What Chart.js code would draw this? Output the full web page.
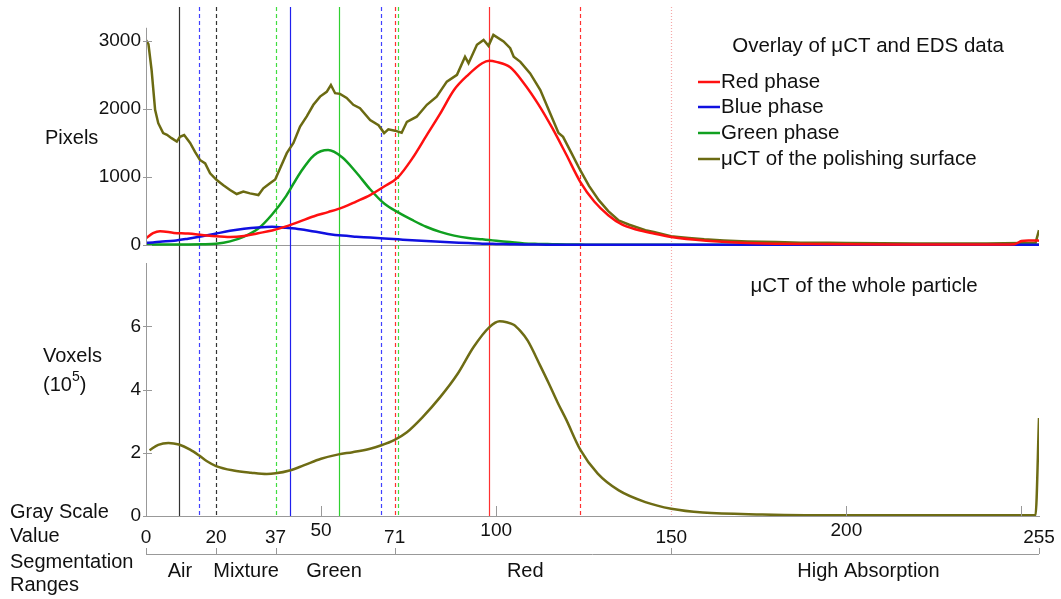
<!DOCTYPE html>
<html>
<head>
<meta charset="utf-8">
<script src="https://cdn.jsdelivr.net/npm/chart.js@4.4.0/dist/chart.umd.min.js"></script>
<style>
html, body { margin: 0; padding: 0; background: #fff; }
#wrap { width: 1061px; height: 599px; }
</style>
</head>
<body>
<div id="wrap"><canvas id="histChart"></canvas></div>
<script>
// gray scale values where the EDS phase curves were read
const phaseX = [0, 2, 4, 8, 12, 16, 20, 24, 28, 32, 36, 40, 44, 48, 52, 56, 60, 64, 68, 72, 76, 80, 84, 88, 92, 96, 98, 100, 104, 108,
    112, 116, 120, 124, 128, 132, 136, 140, 145, 150, 160, 170, 180, 200, 220, 240, 248, 250, 252, 254, 255];
const redPhase = [100, 175, 205, 180, 170, 150, 130, 120, 135, 175, 215, 275, 350, 425, 485, 550, 640, 735, 860, 1000,
    1270, 1600, 1930, 2280, 2500, 2670, 2705, 2690, 2610, 2370, 2070, 1720, 1330, 930, 640, 440, 300, 230, 170, 120,
    65, 35, 22, 12, 10, 10, 15, 60, 70, 70, 65];
const bluePhase = [35, 40, 50, 65, 95, 130, 170, 210, 240, 260, 270, 255, 235, 200, 165, 140, 125, 112, 98, 85,
    72, 60, 50, 40, 30, 22, 20, 18, 14, 10, 8, 7, 6, 5, 5, 5, 5, 5, 5, 5,
    5, 5, 5, 5, 5, 5, 5, 5, 5, 5, 5];
const greenPhase = [10, 10, 10, 10, 10, 12, 20, 55, 125, 240, 450, 720, 1060, 1320, 1395, 1290, 1070, 820, 610, 480,
    370, 270, 195, 140, 105, 85, 75, 65, 45, 25, 18, 14, 10, 8, 6, 5, 5, 5, 5, 5,
    5, 5, 5, 5, 5, 5, 5, 5, 5, 5, 5];

// uCT histogram of the polishing surface (pixels)
const surfaceX = [0, 0.7, 1.6, 2.6, 3.5, 4.9, 6, 7.3, 8.8, 9.7, 10.9, 12.6, 14, 15.4, 16.9, 18.3, 20.2, 22.1, 24, 25.9,
    27.8, 29.7, 32.1, 33.5, 35.4, 36.9, 38.3, 40.2, 42.1, 44, 45.9, 47.8, 49.7, 51.6, 52.8, 54, 55.4, 57.3, 59.2, 61.1,
    64, 66.4, 68, 69.2, 71.1, 73, 74.5, 77.3, 80.2, 83, 85.9, 88.8, 91.1, 92.1, 94.5, 96.4, 97.8, 99.2, 102.1, 104,
    105, 106.9, 109.7, 112.6, 115.4, 117.8, 119.1, 121.5, 124, 126.5, 129.3, 132, 134.9, 138, 142.6, 145, 149.9, 152, 155, 159.4,
    165, 171.7, 180, 187, 195, 200, 210, 220, 230, 240, 250, 254, 255];
const surfacePixels = [3010, 2950, 2570, 1985, 1790, 1645, 1620, 1570, 1520, 1590, 1615, 1500, 1370, 1250, 1200, 1055, 955, 880, 810, 750,
    785, 760, 735, 835, 910, 965, 1130, 1350, 1500, 1740, 1890, 2060, 2180, 2250, 2350, 2230, 2220, 2160, 2060, 2010,
    1835, 1760, 1645, 1700, 1680, 1650, 1810, 1885, 2060, 2180, 2400, 2500, 2765, 2670, 2940, 3010, 2925, 3085, 2990, 2890,
    2765, 2690, 2520, 2275, 1935, 1645, 1590, 1350, 1100, 870, 660, 500, 365, 300, 220, 195, 130, 120, 105, 85,
    70, 55, 45, 35, 35, 30, 28, 25, 25, 25, 30, 30, 220];

// uCT histogram of the whole particle (voxels, 10^5)
const particleX = [1, 3.5, 6.4, 9.4, 12.6, 15.1, 17.3, 20, 25, 30, 34.5, 37, 41, 45, 50, 55, 59, 64, 67, 71,
    74.5, 79, 84, 89, 93.5, 98, 101, 103, 105, 107, 109, 112.6, 115, 117.5, 120, 124, 129, 135, 142.6, 150, 159, 176, 200, 254, 255];
const particleVoxels = [2.08, 2.25, 2.31, 2.26, 2.10, 1.92, 1.74, 1.58, 1.44, 1.37, 1.33, 1.35, 1.44, 1.60, 1.81, 1.95, 2.02, 2.13, 2.23, 2.41,
    2.65, 3.13, 3.76, 4.50, 5.34, 5.97, 6.16, 6.13, 6.05, 5.84, 5.55, 4.75, 4.20, 3.60, 3.05, 2.10, 1.34, 0.81, 0.44, 0.23, 0.11, 0.05, 0.02, 0.02, 3.1];

// threshold lines
const boundaryX = [9.5, 15, 20, 37, 41, 55, 67, 71, 72, 98, 124, 150];
const boundaryColor = ['#333333', '#4040ff', '#333333', '#40dd40', '#2020ee', '#30d030', '#4040ff', '#ff3030', '#40dd40', '#ff3030', '#ff3030', '#f5a8a8'];
const boundaryDash = [[], [4, 3], [4, 3], [4, 3], [], [], [4, 3], [4, 3], [4, 3], [], [4, 3], [1, 2]];

const pixelTicks = [0, 1000, 2000, 3000];
const voxelTicks = [0, 2, 4, 6];
const grayTicksUpper = [50, 100, 200];
const grayTicksLower = [0, 20, 37, 71, 150, 255];
const grayMinorTicks = [50, 100, 200, 250];
const segmentNames = ['Air', 'Mixture', 'Green', 'Red', 'High Absorption'];
const segmentCenters = [9.7, 28.6, 53.7, 108.3, 206.3];

const FONT = '"Liberation Sans", Arial, sans-serif';
const pts = (xs, ys) => xs.map((x, i) => ({ x: x, y: ys[i] }));

// linije pragova, ose i tekstovi oko grafika
const decorPlugin = {
    id: 'decor',
    beforeDatasetsDraw(chart) {
        const { ctx, chartArea, scales } = chart;
        ctx.save();
        ctx.lineWidth = 1.2;
        boundaryX.forEach((v, i) => {
            const px = Math.round(scales.x.getPixelForValue(v)) + 0.5;
            ctx.strokeStyle = boundaryColor[i];
            ctx.setLineDash(boundaryDash[i]);
            ctx.beginPath();
            ctx.moveTo(px, chartArea.top);
            ctx.lineTo(px, chartArea.bottom);
            ctx.stroke();
        });
        ctx.setLineDash([]);
        ctx.restore();
    },
    afterDraw(chart) {
        const { ctx, chartArea, scales } = chart;
        const x = scales.x, y = scales.y, y2 = scales.y2;
        ctx.save();
        ctx.strokeStyle = '#999';
        ctx.lineWidth = 1;
        // top panel y axis line
        ctx.beginPath();
        ctx.moveTo(chartArea.left + 0.5, y.getPixelForValue(3190));
        ctx.lineTo(chartArea.left + 0.5, y.getPixelForValue(0));
        ctx.stroke();
        // y tick marks
        pixelTicks.forEach(v => {
            const py = Math.round(y.getPixelForValue(v)) + 0.5;
            ctx.beginPath(); ctx.moveTo(chartArea.left - 3, py); ctx.lineTo(chartArea.left + 6, py); ctx.stroke();
        });
        voxelTicks.forEach(v => {
            const py = Math.round(y2.getPixelForValue(v)) + 0.5;
            ctx.beginPath(); ctx.moveTo(chartArea.left - 3, py); ctx.lineTo(chartArea.left + 6, py); ctx.stroke();
        });
        // small ticks inward on the gray scale axis
        grayMinorTicks.forEach(v => {
            const px = Math.round(x.getPixelForValue(v)) + 0.5;
            ctx.beginPath(); ctx.moveTo(px, chartArea.bottom); ctx.lineTo(px, chartArea.bottom - 10); ctx.stroke();
        });
        // segmentation ranges line
        const segY = chartArea.bottom + 38;
        ctx.beginPath();
        ctx.moveTo(x.getPixelForValue(0), segY + 0.5);
        ctx.lineTo(x.getPixelForValue(255), segY + 0.5);
        ctx.stroke();
        grayTicksLower.forEach(v => {
            const px = Math.round(x.getPixelForValue(v)) + 0.5;
            ctx.beginPath(); ctx.moveTo(px, segY); ctx.lineTo(px, segY - 6); ctx.stroke();
        });

        ctx.fillStyle = '#111';
        ctx.textBaseline = 'middle';
        ctx.font = '19px ' + FONT;
        ctx.textAlign = 'center';
        grayTicksLower.forEach(v => {
            ctx.fillText(String(v), x.getPixelForValue(v), chartArea.bottom + 22);
        });
        ctx.font = '20px ' + FONT;
        segmentNames.forEach((n, i) => {
            ctx.fillText(n, x.getPixelForValue(segmentCenters[i]), chartArea.bottom + 55);
        });

        // axis names on the left
        ctx.textAlign = 'left';
        ctx.fillText('Pixels', 45, 138);
        ctx.fillText('Voxels', 43, 356);
        ctx.fillText('(10', 43, 385);
        const w10 = ctx.measureText('(10').width;
        ctx.font = '14px ' + FONT;
        ctx.fillText('5', 43 + w10, 377);
        const w5 = ctx.measureText('5').width;
        ctx.font = '20px ' + FONT;
        ctx.fillText(')', 43 + w10 + w5, 385);
        ctx.fillText('Gray Scale', 10, 512);
        ctx.fillText('Value', 10, 536);
        ctx.fillText('Segmentation', 10, 562);
        ctx.fillText('Ranges', 10, 585);

        // titles
        ctx.textAlign = 'center';
        ctx.font = '20.5px ' + FONT;
        ctx.fillText('Overlay of \u03bcCT and EDS data', 868, 46);
        ctx.fillText('\u03bcCT of the whole particle', 864, 286);

        // legend
        const rows = [82, 107, 133, 159];
        ctx.textAlign = 'left';
        rows.forEach((ry, i) => {
            const ds = chart.data.datasets[i];
            ctx.strokeStyle = ds.borderColor;
            ctx.lineWidth = 2.5;
            ctx.beginPath(); ctx.moveTo(698, ry); ctx.lineTo(720, ry); ctx.stroke();
            ctx.fillStyle = '#111';
            ctx.fillText(ds.label, 721, ry);
        });
        ctx.restore();
    }
};

// bez dodatnog razmaka za oznake na krajevima y osa
const fitLeftAxis = s => {
    s.width = 146;
    s.paddingTop = 0;
    s.paddingBottom = 0;
};

const ctx = document.getElementById('histChart').getContext('2d');
new Chart(ctx, {
    type: 'line',
    data: {
        datasets: [{
            label: 'Red phase',
            data: pts(phaseX, redPhase),
            borderColor: '#ff1010',
            borderWidth: 2.5,
            cubicInterpolationMode: 'monotone',
            yAxisID: 'y'
        }, {
            label: 'Blue phase',
            data: pts(phaseX, bluePhase),
            borderColor: '#1010e0',
            borderWidth: 2.5,
            cubicInterpolationMode: 'monotone',
            yAxisID: 'y'
        }, {
            label: 'Green phase',
            data: pts(phaseX, greenPhase),
            borderColor: '#10a020',
            borderWidth: 2.5,
            cubicInterpolationMode: 'monotone',
            yAxisID: 'y'
        }, {
            label: '\u03bcCT of the polishing surface',
            data: pts(surfaceX, surfacePixels),
            borderColor: '#6b6a12',
            borderWidth: 2.5,
            tension: 0,
            yAxisID: 'y'
        }, {
            label: '\u03bcCT of the whole particle',
            data: pts(particleX, particleVoxels),
            borderColor: '#6e6c14',
            borderWidth: 2.5,
            cubicInterpolationMode: 'monotone',
            yAxisID: 'y2'
        }]
    },
    options: {
        responsive: true,
        maintainAspectRatio: false,
        animation: false,
        layout: { padding: { top: 7, right: 22, left: 0, bottom: 0 } },
        elements: { point: { radius: 0 } },
        plugins: { legend: { display: false }, tooltip: { enabled: false } },
        scales: {
            x: {
                type: 'linear', min: 0, max: 255, position: 'bottom',
                afterBuildTicks: s => { s.ticks = grayTicksUpper.map(v => ({ value: v })); },
                afterFit: s => { s.height = 83; },
                grid: { display: false, drawTicks: false },
                border: { color: '#999' },
                ticks: { color: '#111', font: { family: FONT, size: 19 }, padding: 3, maxRotation: 0, minRotation: 0, autoSkip: false, callback: v => String(v) }
            },
            // voxel axis first so that it is stacked below the pixel axis
            y2: {
                type: 'linear', min: 0, max: 8, position: 'left', stack: 'panels', stackWeight: 1,
                afterBuildTicks: s => { s.ticks = voxelTicks.map(v => ({ value: v })); },
                afterFit: fitLeftAxis,
                grid: { display: false, drawTicks: false },
                border: { color: '#999' },
                ticks: { color: '#111', font: { family: FONT, size: 19 }, padding: 5, callback: v => String(v) }
            },
            y: {
                type: 'linear', min: -264, max: 3495, position: 'left', stack: 'panels', stackWeight: 1.013,
                afterBuildTicks: s => { s.ticks = pixelTicks.map(v => ({ value: v })); },
                afterFit: fitLeftAxis,
                grid: { drawTicks: false, color: c => (c.tick && c.tick.value === 0) ? '#999' : 'rgba(0,0,0,0)' },
                border: { display: false },
                ticks: { color: '#111', font: { family: FONT, size: 19 }, padding: 5, callback: v => String(v) }
            }
        }
    },
    plugins: [decorPlugin]
});
</script>
</body>
</html>
